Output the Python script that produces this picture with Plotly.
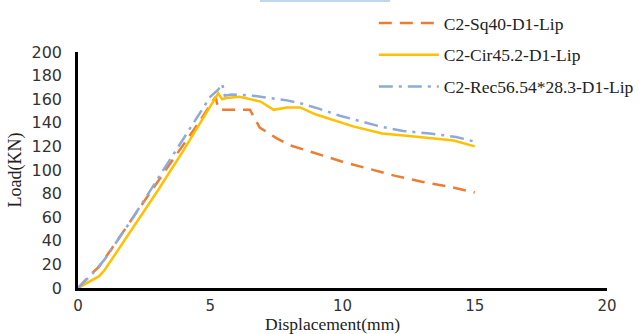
import plotly.graph_objects as go

sq_x = [0, 0.5, 0.8, 1.5, 2.5, 3.5, 4.5, 5.2, 5.3, 5.5, 6.0, 6.5, 6.87, 7.5, 8.0, 9.0, 10.0, 11.0, 12.0, 13.0, 14.0, 15.0]
sq_y = [0, 12, 18, 41, 73, 106, 138, 162, 152, 151, 151, 151, 136, 127, 121, 114, 107, 101, 95, 90, 86, 81]

cir_x = [0, 0.8, 1.0, 2.0, 3.0, 4.0, 5.0, 5.3, 5.45, 5.6, 6.1, 6.9, 7.4, 7.9, 8.4, 9.0, 10.4, 11.5, 12.9, 14.2, 15.0]
cir_y = [0, 10, 15, 48, 82, 117, 153, 165, 160, 161, 162, 158, 151, 153, 153, 147, 137, 131, 128, 125, 120]

rec_x = [0, 0.5, 1.0, 2.0, 3.0, 4.0, 5.0, 5.3, 5.45, 5.55, 5.8, 6.6, 7.9, 8.5, 9.1, 9.9, 11.4, 12.3, 13.3, 14.3, 15.0]
rec_y = [0, 11, 24, 57, 92, 127, 162, 168, 173, 163, 164, 163, 159, 156, 152, 146, 137, 133, 131, 128, 124]

names = ["C2-Sq40-D1-Lip", "C2-Cir45.2-D1-Lip", "C2-Rec56.54*28.3-D1-Lip"]
x_ticks = [0, 5, 10, 15, 20]
y_ticks = [0, 20, 40, 60, 80, 100, 120, 140, 160, 180, 200]
x_title = "Displacement(mm)"
y_title = "Load(KN)"

fig = go.Figure()
fig.add_trace(go.Scatter(x=sq_x, y=sq_y, mode="lines", name=names[0], legendgroup="a",
                         line=dict(color="#ED7D31", width=2.5, dash="13px,8px")))
fig.add_trace(go.Scatter(x=cir_x, y=cir_y, mode="lines", name=names[1], legendgroup="b",
                         line=dict(color="#FFC000", width=2.5)))
fig.add_trace(go.Scatter(x=rec_x, y=rec_y, mode="lines", name=names[2], legendgroup="c",
                         line=dict(color="#8EA9DB", width=2.5, dash="14px,6px,3px,6px")))

fig.update_layout(
    width=639, height=334,
    margin=dict(l=78, r=32, t=52, b=46, autoexpand=False),
    paper_bgcolor="white", plot_bgcolor="white",
    showlegend=True,
    legend=dict(xref="container", yref="container", x=0.585, y=0.985,
                xanchor="left", yanchor="top", itemwidth=60, borderwidth=0,
                font=dict(family="Liberation Serif", size=17.5, color="#222"),
                tracegroupgap=6, bgcolor="rgba(0,0,0,0)"),
    shapes=[dict(type="rect", xref="paper", yref="paper", x0=0.344, x1=0.59, y0=1.212, y1=1.222,
                 line=dict(width=0), fillcolor="#BDD7EE")],
    annotations=[dict(text=x_title, xref="paper", yref="paper", x=0.482, y=-0.205,
                      xanchor="center", yanchor="bottom", showarrow=False,
                      font=dict(family="Liberation Serif", size=17.5, color="#222"))],
)
fig.update_xaxes(range=[0, 20], tickvals=x_ticks, showgrid=False, zeroline=False,
                 showline=True, linecolor="black", linewidth=2.5,
                 ticks="", ticklabelstandoff=2,
                 tickfont=dict(family="DejaVu Sans", size=15, color="#333"))
fig.update_yaxes(range=[0, 200], tickvals=y_ticks, showgrid=False, zeroline=False,
                 showline=True, linecolor="black", linewidth=2.5,
                 ticks="", ticklabelstandoff=10,
                 tickfont=dict(family="DejaVu Sans", size=16, color="#333"),
                 title=dict(text=y_title, standoff=6,
                            font=dict(family="Liberation Serif", size=18, color="#222")))

fig.write_html("out.html")
